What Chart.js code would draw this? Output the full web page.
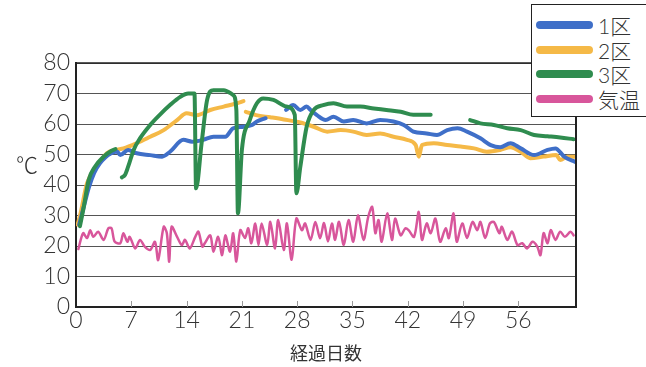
<!DOCTYPE html>
<html>
<head>
<meta charset="utf-8">
<script src="https://cdn.jsdelivr.net/npm/chart.js@4.4.1/dist/chart.umd.min.js"></script>
<style>
  body { margin: 0; background: #fff; }
  #wrap { position: relative; width: 646px; height: 367px; overflow: hidden; font-family: Lato, "Noto Sans CJK JP", sans-serif; font-weight: 300; }
  #unit { position: absolute; left: 16px; top: 147px; font-size: 22px; color: #333; font-family: "Noto Sans CJK JP", sans-serif; font-weight: 300; }
  #legend { position: absolute; left: 531px; top: 4px; width: 130px; height: 111px; border: 1.5px solid #222; background: #fff; }
  .row { position: absolute; left: 0; height: 24px; }
  .bar { position: absolute; left: 4px; top: 8px; width: 57px; height: 8px; border-radius: 4px; }
  .txt { position: absolute; left: 66px; top: -3px; font-size: 21px; color: #333; white-space: nowrap; }
</style>
</head>
<body>
<div id="wrap">
  <canvas id="chart" width="646" height="367"></canvas>
  <div id="unit">℃</div>
  <div id="legend"></div>
</div>
<script>
// 経過日数 / 温度(℃)
const seriesNames = ['1区', '2区', '3区', '気温'];
const seriesColors = ['#3f6fc8', '#f5b947', '#2f8c4f', '#d8569b'];
const xTicks = [0, 7, 14, 21, 28, 35, 42, 49, 56];

const days1 = [0.4, 1, 1.6, 2.3, 3, 3.7, 4.4, 5.2, 5.6, 6.6, 7.7, 9.4, 10.9, 11.9, 13.6, 14.7, 16.1, 17.4, 18.9, 19.9, 21.2, 22.3, 22.9, 24, 25, 26.6, 27.5, 28.4, 29.2, 29.7, 30.5, 31.6, 32.6, 33.9, 35.1, 36.8, 38.5, 40.2, 41.5, 42.7, 44.4, 45.7, 47, 48.3, 49.5, 51.2, 52.5, 53.7, 55, 56.3, 58, 59.7, 60.7, 61.8, 63.2];
const temps1 = [27, 33, 39, 44, 47, 49, 50.3, 51, 49.8, 51.5, 50.4, 49.8, 49.3, 50.9, 54.8, 54.2, 54.8, 55.8, 55.8, 58.6, 59.1, 59.7, 60.8, 61.9, null, 64.6, 66.2, 64.6, 65.7, 64.6, 62.9, 61.3, 62.4, 60.8, 61.3, 60.2, 61.3, 60.8, 59.7, 57.5, 56.9, 56.4, 58, 58.6, 57.5, 55.3, 53.1, 52.4, 53.7, 52, 49.8, 51.5, 52, 49.3, 47.6];

const days2 = [0.2, 0.6, 1.4, 2.6, 3.9, 5, 6, 7.7, 9.4, 11.1, 12.8, 14, 15.3, 17, 18.7, 20.4, 21.2, 21.3, 21.5, 22.8, 24.6, 26.3, 28.4, 30.1, 31.8, 33.5, 35.1, 36.8, 38.5, 40.2, 41.9, 43, 43.4, 43.8, 45.3, 47, 48.7, 50.4, 52, 53.7, 55, 56.3, 57.5, 59.2, 60.8, 61.3, 62.2, 63.2];
const temps2 = [27, 31, 40.6, 46, 50.4, 51.5, 52, 53.7, 55.8, 58, 61.3, 63.5, 62.9, 64.6, 65.7, 66.8, 67.5, null, 64, 62.9, 62.2, 61.5, 60.5, 59.1, 57.5, 58, 57.5, 56.4, 56.9, 55.8, 54.8, 53.1, 49.3, 53.1, 53.7, 53.1, 52.6, 52, 50.9, 51.5, 52.4, 50.9, 48.8, 49.3, 49.8, 48.2, 49.3, 49.3];

const days3 = [0.5, 1, 1.6, 2.4, 3.5, 4.5, 5, 5.4, 5.8, 6.2, 6.6, 7.3, 8.1, 9.4, 10.6, 11.9, 13.2, 14.2, 15, 15.2, 15.9, 16.6, 17.4, 18.7, 19.9, 20.3, 20.5, 21, 22, 22.9, 23.7, 25, 26.7, 27.7, 27.9, 28.4, 29.2, 30.1, 31.3, 32.6, 34.3, 36, 37.7, 39.3, 41.1, 42.7, 44.9, 47, 49.9, 51.2, 52.9, 54.6, 56.3, 58, 59.7, 61.3, 63];
const temps3 = [26.5, 33, 41.6, 46, 49.3, 51.2, 51.8, null, 42.5, 43.3, 46, 51.5, 55.3, 59.7, 63, 66.2, 68.9, 70, 70, 38.9, 53.7, 67.9, 71.1, 71.1, 69.5, 64.6, 30.7, 51.5, 61.3, 66.8, 68.4, 67.9, 65.7, 63, 37.3, 46, 59.1, 64.6, 66.2, 66.8, 65.7, 65.7, 65.1, 64.6, 64, 63, 63, null, 61.3, 60.2, 59.7, 58.6, 58, 56.4, 56, 55.6, 55];

const daysAir = [0.3, 0.9, 1.4, 1.8, 2.2, 2.8, 3.5, 4.1, 4.5, 4.9, 5.6, 6, 6.5, 6.8, 7.5, 8.1, 8.7, 9.4, 10, 10.4, 11.1, 11.5, 11.8, 12.1, 12.8, 13.4, 13.8, 14.4, 15.1, 15.5, 16, 16.3, 17, 17.4, 18, 18.5, 18.9, 19.5, 19.9, 20.3, 20.8, 21.4, 21.8, 22.2, 22.7, 23.1, 23.5, 24.2, 24.6, 25.2, 25.6, 26.3, 26.7, 27.3, 27.9, 28.6, 29, 29.7, 30.3, 30.9, 31.4, 31.9, 32.4, 32.8, 33.3, 33.9, 34.5, 35.1, 35.7, 36.4, 37, 37.5, 37.9, 38.3, 38.7, 39.4, 40, 40.4, 41.1, 41.7, 42.1, 42.8, 43.4, 43.8, 44.4, 44.9, 45.5, 46.1, 46.8, 47.2, 47.8, 48.2, 48.9, 49.5, 50.2, 50.8, 51.2, 51.8, 52.4, 52.9, 53.6, 53.9, 54.6, 55.2, 55.9, 56.5, 57.1, 57.8, 58.4, 58.8, 59.2, 59.7, 60.1, 60.7, 61.3, 61.9, 62.6, 63];
const tempsAir = [19, 24.2, 22.6, 25.2, 23, 24.7, 22, 25.8, 25.8, 21.4, 20.9, 24.2, 21.4, 23, 19.2, 22, 19.8, 18.7, 21.4, 15.4, 26.3, 24.2, 14.9, 26.3, 23, 20.3, 22, 19.2, 23, 24.7, 19.8, 20.9, 23.5, 18.1, 23, 17, 23.5, 18.1, 24.2, 14.9, 25.2, 22.6, 25.8, 20.9, 27.4, 20.3, 27.4, 20.3, 27.9, 19.2, 28.5, 18.7, 27.4, 15.5, 29, 25.2, 27.4, 22, 27.9, 22.5, 27.5, 21.5, 27.4, 22, 27.9, 20.3, 28.5, 21.4, 30.1, 22, 29.6, 32.8, 24.2, 28.5, 21.4, 30.7, 22, 29, 23.5, 25.8, 25.2, 23, 31.2, 22, 27.4, 24.2, 29, 21.4, 25.8, 22.6, 30.7, 21.4, 27.4, 22.6, 27.9, 25.2, 27.9, 22.6, 27.4, 27.9, 24.2, 26.3, 22, 24.7, 20.3, 20.9, 19.2, 21.4, 19.8, 17, 24.2, 20.9, 25.2, 22, 24.7, 23, 24.7, 23.5];

const toPoints = (xs, ys) => xs.map((x, i) => ({ x: x, y: ys[i] }));

const allDays = [days1, days2, days3, daysAir];
const allTemps = [temps1, temps2, temps3, tempsAir];
const widths = [4, 4, 4, 2.5];
const drawOrder = [2, 3, 1, 0];

// legend drawn as html, box sits over the plot corner
const legendEl = document.getElementById('legend');
seriesNames.forEach((name, i) => {
  const row = document.createElement('div');
  row.className = 'row';
  row.style.top = (8 + i * 24.5) + 'px';
  row.innerHTML = '<div class="bar" style="background:' + seriesColors[i] + '"></div><div class="txt">' + name + '</div>';
  legendEl.appendChild(row);
});

const frame = {
  id: 'frame',
  afterDatasetsDraw(chart) {
    const { ctx, chartArea: a, scales } = chart;
    ctx.save();
    ctx.strokeStyle = '#222';
    ctx.lineWidth = 1.5;
    ctx.beginPath();
    ctx.moveTo(a.left, a.top);
    ctx.lineTo(a.right, a.top);
    ctx.stroke();
    ctx.lineWidth = 2;
    ctx.beginPath();
    ctx.moveTo(a.right, a.top);
    ctx.lineTo(a.right, a.bottom);
    ctx.stroke();
    // little ticks standing inside the x axis
    ctx.strokeStyle = '#999';
    ctx.lineWidth = 1;
    xTicks.slice(1).forEach((d) => {
      const px = Math.round(scales.x.getPixelForValue(d)) + 0.5;
      ctx.beginPath();
      ctx.moveTo(px, a.bottom);
      ctx.lineTo(px, a.bottom - 6);
      ctx.stroke();
    });
    ctx.restore();
  }
};

const tickFont = { family: 'Lato, "Noto Sans CJK JP", sans-serif', size: 23, weight: 300 };

new Chart(document.getElementById('chart'), {
  type: 'line',
  data: {
    datasets: seriesNames.map((name, i) => ({
      label: name,
      data: toPoints(allDays[i], allTemps[i]),
      borderColor: seriesColors[i],
      borderWidth: widths[i],
      pointRadius: 0,
      tension: i < 3 ? 0 : 0.3,
      cubicInterpolationMode: i < 3 ? 'monotone' : 'default',
      spanGaps: false,
      borderCapStyle: 'round',
      borderJoinStyle: 'round',
      order: drawOrder[i]
    }))
  },
  options: {
    responsive: false,
    animation: false,
    layout: { padding: { left: 0, right: 70, top: 63, bottom: 0 } },
    plugins: { legend: { display: false }, tooltip: { enabled: false } },
    scales: {
      x: {
        type: 'linear',
        min: 0,
        max: 63.3,
        afterBuildTicks: (s) => { s.ticks = xTicks.map((v) => ({ value: v })); },
        afterFit: (s) => { s.height = 60; },
        ticks: { font: tickFont, color: '#333', padding: 0, maxRotation: 0, autoSkip: false },
        grid: { display: true, drawOnChartArea: false, drawTicks: false },
        border: { color: '#222', width: 2 },
        title: {
          display: true,
          text: '経過日数',
          font: { family: '"Noto Sans CJK JP", sans-serif', size: 18 },
          color: '#333',
          padding: { top: 0, bottom: 3 }
        }
      },
      y: {
        min: 0,
        max: 80,
        ticks: { stepSize: 10, font: tickFont, color: '#333', padding: 6, autoSkip: false },
        afterFit: (s) => { s.width = 76; },
        grid: { color: '#555', lineWidth: 1, drawTicks: false },
        border: { color: '#222', width: 2 }
      }
    }
  },
  plugins: [frame]
});
</script>
</body>
</html>
